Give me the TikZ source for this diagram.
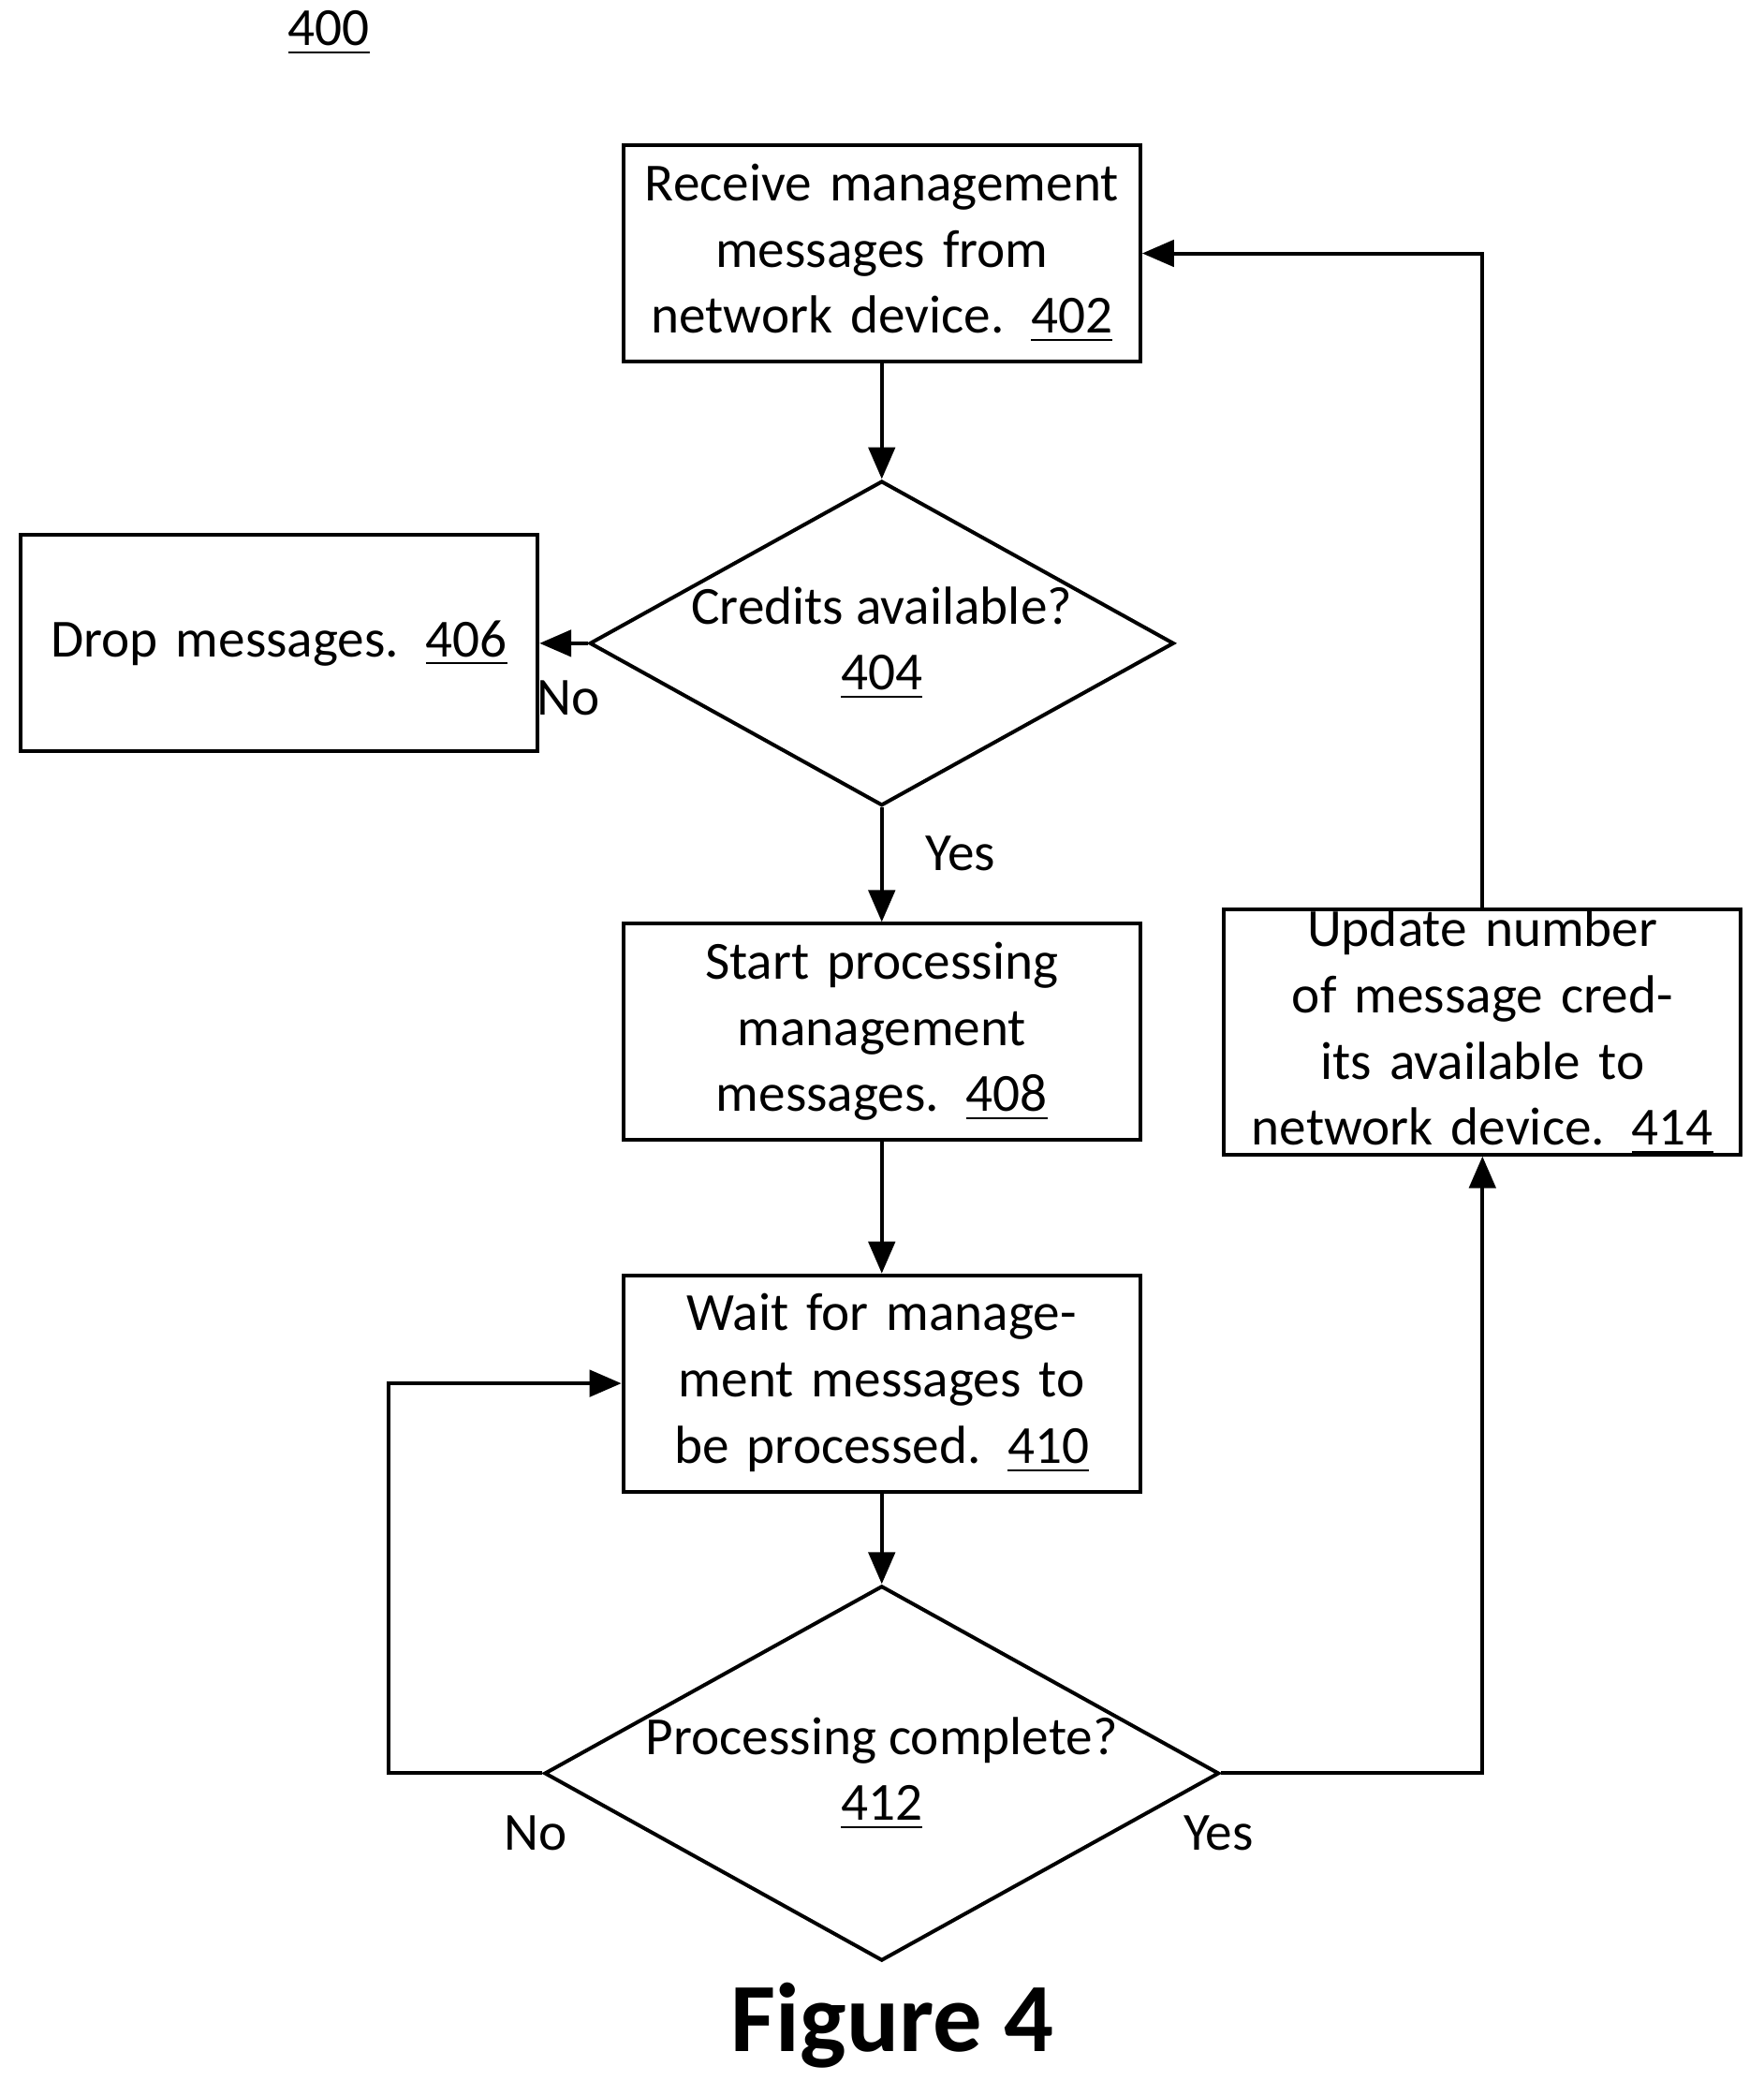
\documentclass[tikz,border=0pt]{standalone}
\usepackage{fontspec}
\setmainfont{Carlito}
\usetikzlibrary{
    arrows.meta, % for the arrow tips
    shapes.geometric, % for the decision diamonds
    positioning
}

\begin{document}
\begin{tikzpicture}[
    >={Triangle[length=2.4mm,width=2mm]},
    every node/.style = {font=\fontsize{11.5}{14.2}\selectfont},
    process/.style    = {rectangle,draw,thick,minimum width=3.9cm,minimum height=1.63cm,
                         text width=3.6cm,align=center,inner sep=0pt},
    decision/.style   = {diamond,draw,thick,minimum width=3.9cm,minimum height=2.16cm,
                         aspect=1.8,align=center,inner sep=0pt},
    flow/.style       = {->,thick}
]
\useasboundingbox (0,0) rectangle (13.3,-15.69);

% steps and decisions

    \node (fig)  at (2.48,-0.25) {\underline{400}};
    \node [process]  (recv)  at (6.65,-1.91)  {Receive management messages from network device. \underline{402}};
    \node [decision] (cred)  at (6.65,-4.85)  {Credits available?\\\underline{404}};
    \node [process]  (drop)  at (2.105,-4.85) {Drop messages. \underline{406}};
    \node [process]  (start) at (6.65,-7.78)  {Start processing management messages. \underline{408}};
    \node [process,text width=3.75cm] (upd) at (11.18,-7.78) {Update number of message credits available to network device. \underline{414}};
    \node [process]  (wait)  at (6.65,-10.43) {Wait for management messages to be processed. \underline{410}};
    \node [decision] (done)  at (6.65,-13.37) {Processing complete?\\\underline{412}};
    \node [font=\fontsize{21}{24}\selectfont\bfseries] (cap) at (6.73,-15.27) {Figure 4};

% connectors

    \coordinate (loopl) at (2.93,-13.37);
    \coordinate (loopr) at (11.18,-13.37);
    \draw [flow] (recv) -- (cred);
    \draw [flow] (cred) -- node [pos=0.4,below=0.15cm] (no1) {No} (drop);
    \draw [flow] (cred) -- node [pos=0.4,right=0.2cm] (yes1) {Yes} (start);
    \draw [flow] (start) -- (wait);
    \draw [flow] (wait) -- (done);
    \draw [flow] (done.west) -- (loopl) |- (wait.west);
    \draw [flow] (done.east) -- (loopr) -- (upd.south);
    \draw [flow] (upd.north) |- (recv.east);
    \node (no2)  at (4.04,-13.82) {No};
    \node (yes2) at (9.19,-13.82) {Yes};

\end{tikzpicture}
\end{document}
